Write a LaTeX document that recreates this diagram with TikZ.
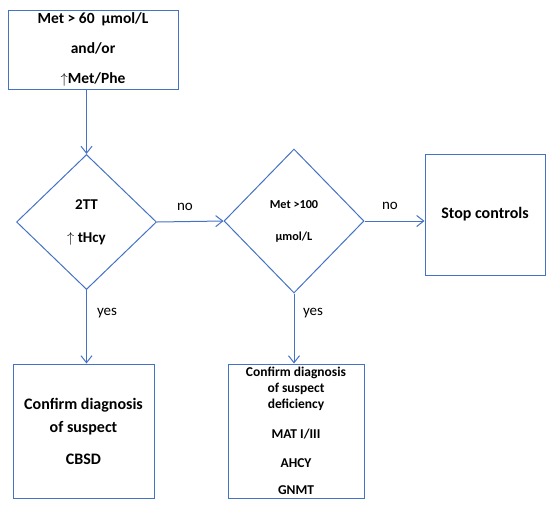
\documentclass[tikz,border=0pt]{standalone}
\usepackage{fontspec}
\setmainfont{Carlito}
\usepackage{tikz}
\usetikzlibrary{positioning, arrows.meta, shapes.geometric}
\definecolor{flowblue}{RGB}{68,114,196}

\begin{document}
\begin{tikzpicture}[
   x=1pt, y=1pt,
   box/.style={draw=flowblue, line width=1pt, align=center, inner sep=0pt},
   test/.style={draw=flowblue, line width=1pt, diamond, align=center,
         inner sep=0pt, minimum width=140pt},
   arr/.style={-{Straight Barb[length=7pt, width=11pt]}, draw=flowblue, line width=1pt},
   lbl/.style={font=\fontsize{15}{17}\selectfont},
  ]
  \useasboundingbox (0,0) rectangle (550,-507);

  \node[box, minimum width=170pt, minimum height=79pt,
        font=\bfseries\fontsize{15.5}{30}\selectfont] (start) at (93,-49.5)
    {Met > 60\ \ µmol/L\\and/or\\$\uparrow$Met/Phe};

  \node[test, minimum height=135pt, font=\bfseries\fontsize{15}{33}\selectfont]
    (tcy) at (86.5,-222) {2TT\\$\uparrow$ tHcy};
  \node[test, minimum height=144pt, font=\bfseries\fontsize{12.2}{32}\selectfont,
        right=66.5pt of tcy, yshift=1pt] (met) {Met >100\\µmol/L};

  \node[box, minimum width=120pt, minimum height=121pt,
        font=\bfseries\fontsize{16}{19}\selectfont,
        right=60pt of met, yshift=6.5pt] (stop) {Stop controls};

  \node[box, minimum width=141pt, minimum height=134pt,
        font=\bfseries\fontsize{16}{23}\selectfont,
        below=73.5pt of tcy, xshift=-3pt] (cbsd)
    {Confirm diagnosis\\of suspect\\[9pt]CBSD};
  \node[box, minimum width=136pt, minimum height=134pt,
        font=\bfseries\fontsize{13.5}{16}\selectfont,
        below=70pt of met, xshift=2pt] (defic)
    {Confirm diagnosis\\of suspect\\deficiency\\[14pt]MAT I/III\\[13pt]AHCY\\[11pt]GNMT};

  \draw[arr] (tcy.north |- start.south) -- (tcy.north);
  \draw[arr] (tcy.east) -- (met.west);
  \draw[arr] (met.east) -- (met.east -| stop.west);
  \draw[arr] (tcy.south) -- (tcy.south |- cbsd.north);
  \draw[arr] (met.south) -- (met.south |- defic.north);

  \node[lbl] (no1) at (185,-207) {no};
  \node[lbl] (no2) at (390,-206) {no};
  \node[lbl] (yes1) at (107,-313) {yes};
  \node[lbl] (yes2) at (313,-313) {yes};
\end{tikzpicture}
\end{document}
